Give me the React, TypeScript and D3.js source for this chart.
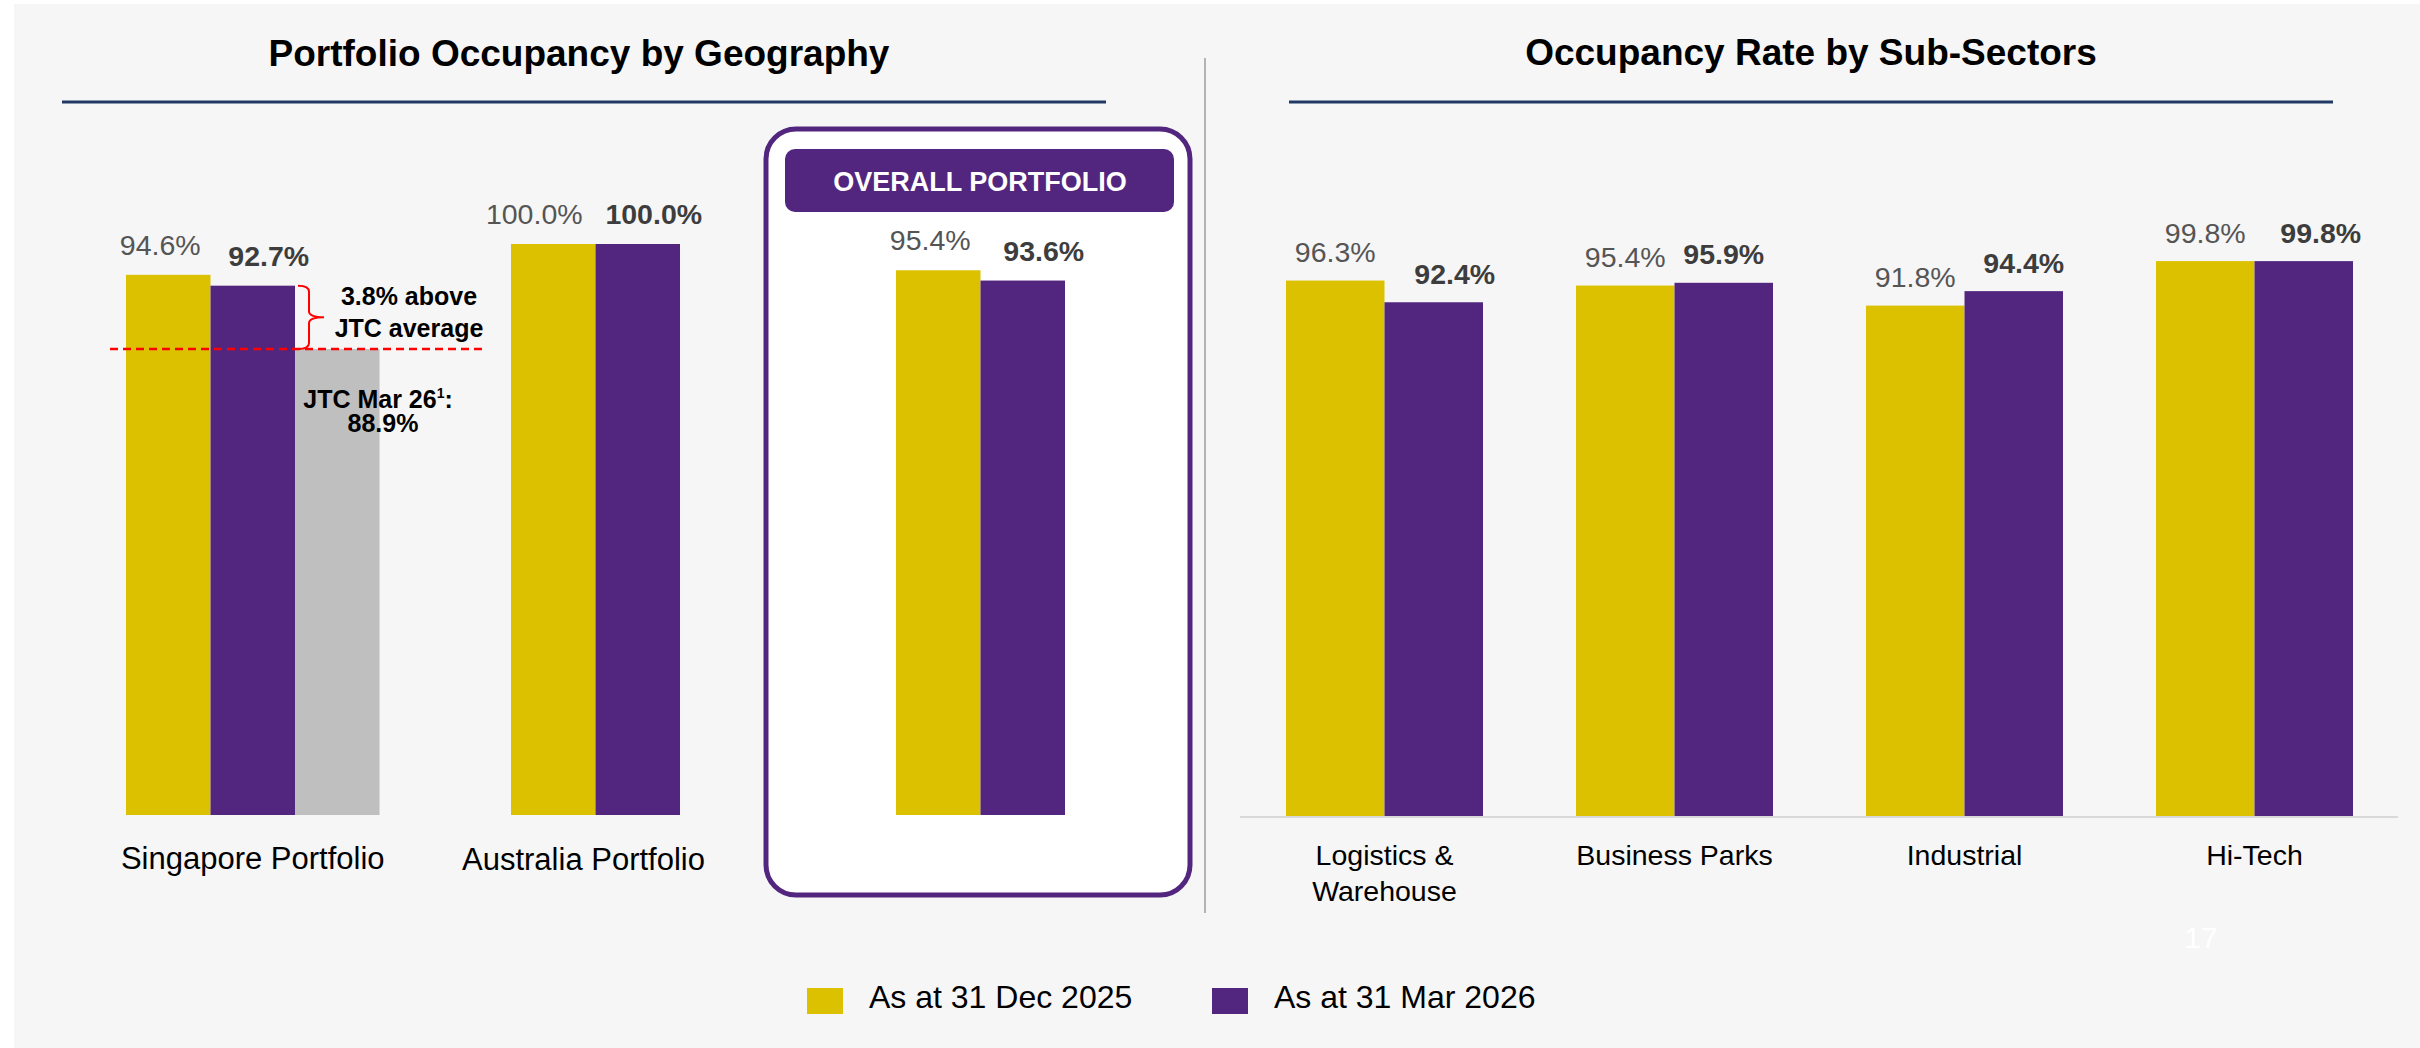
import React from 'react';
import * as d3 from 'd3';

// ---------- data ----------
const geoCategories = ['Singapore Portfolio', 'Australia Portfolio', 'OVERALL PORTFOLIO'];
const geoDec2025 = [94.6, 100.0, 95.4];
const geoMar2026 = [92.7, 100.0, 93.6];
const jtcAverage = 88.9; // JTC Mar 26 average (label)
const jtcDrawnLevel = 81.6; // level at which the reference draws the grey JTC bar / dashed line
const jtcGap = 3.8;

const sectorCategories = [['Logistics &', 'Warehouse'], ['Business Parks'], ['Industrial'], ['Hi-Tech']];
const sectorDec2025 = [96.3, 95.4, 91.8, 99.8];
const sectorMar2026 = [92.4, 95.9, 94.4, 99.8];

const seriesNames = ['As at 31 Dec 2025', 'As at 31 Mar 2026'];

// ---------- styles ----------
const YELLOW = '#dcc100';
const PURPLE = '#52267f';
const GREY_BAR = '#bfbfbf';
const NAVY = '#1f3864';
const FONT = '"Liberation Sans", Arial, Helvetica, sans-serif';

const fmt = (v: number) => `${v.toFixed(1)}%`;

export default function App() {
  const W = 2420;
  const H = 1048;

  // Left panel scales
  const yL = d3.scaleLinear().domain([0, 100]).range([815, 244]);
  const xL = d3.scaleBand<string>().domain(geoCategories).range([126, 1065]).paddingInner(0.561).paddingOuter(0);
  const xLs = d3.scaleBand<string>().domain(['a', 'b']).range([0, xL.bandwidth()]).padding(0);
  const bwL = xLs.bandwidth();

  // Right panel scales
  const sectorKeys = sectorCategories.map((c) => c.join(' '));
  const yR = d3.scaleLinear().domain([0, 100]).range([816, 260]);
  const xR = d3.scaleBand<string>().domain(sectorKeys).range([1286, 2353]).paddingInner(0.3207).paddingOuter(0);
  const xRs = d3.scaleBand<string>().domain(['a', 'b']).range([0, xR.bandwidth()]).padding(0);
  const bwR = xRs.bandwidth();

  // label nudges (layout only)
  const lDxA = [-8, -19, -8];
  const lDxB = [16, 16, 21];
  const rDxA = [0, 0, 0, 0];
  const rDxB = [21, 0, 10, 17];

  const valueFont = 28.5;

  const sgX = xL(geoCategories[0])!;
  const jtcX = sgX + 2 * bwL;
  const jtcY = yL(jtcDrawnLevel);
  const sgPurpleTop = yL(geoMar2026[0]);
  const braceX = jtcX + 14;
  const braceMid = (sgPurpleTop + jtcY) / 2;
  const bracePath = `M${jtcX + 3},${sgPurpleTop} Q${braceX},${sgPurpleTop} ${braceX},${sgPurpleTop + 6}
    L${braceX},${braceMid - 6} Q${braceX},${braceMid} ${braceX + 15},${braceMid}
    Q${braceX},${braceMid} ${braceX},${braceMid + 6} L${braceX},${jtcY - 6} Q${braceX},${jtcY} ${jtcX + 3},${jtcY}`;

  return (
    <svg
      width={W}
      height={H}
      viewBox={`0 0 ${W} ${H}`}
      style={{ position: 'absolute', left: 0, top: 0, fontFamily: FONT }}
    >
      <rect x={0} y={0} width={W} height={H} fill="#ffffff" />
      <rect x={14} y={4} width={W - 14} height={H - 4} fill="#f6f6f6" />

      {/* Titles */}
      <text x={579} y={66} textAnchor="middle" fontSize={37} fontWeight="bold" fill="#000">
        Portfolio Occupancy by Geography
      </text>
      <line x1={62} x2={1106} y1={102} y2={102} stroke={NAVY} strokeWidth={3} />
      <text x={1811} y={65} textAnchor="middle" fontSize={37} fontWeight="bold" fill="#000">
        Occupancy Rate by Sub-Sectors
      </text>
      <line x1={1289} x2={2333} y1={102} y2={102} stroke={NAVY} strokeWidth={3} />

      {/* separator */}
      <line x1={1205} x2={1205} y1={58} y2={913} stroke="#b3b3b3" strokeWidth={2} />

      {/* Overall portfolio box */}
      <rect x={766} y={129} width={424} height={766} rx={30} ry={30} fill="#ffffff" stroke={PURPLE} strokeWidth={5} />
      <rect x={785} y={149} width={389} height={63} rx={10} ry={10} fill={PURPLE} />
      <text x={980} y={191} textAnchor="middle" fontSize={27} fontWeight="bold" fill="#ffffff">
        {geoCategories[2]}
      </text>

      {/* Left bars */}
      {geoCategories.map((c, i) => {
        const x0 = xL(c)!;
        const ya = yL(geoDec2025[i]);
        const yb = yL(geoMar2026[i]);
        return (
          <g key={c}>
            <rect x={x0 + xLs('a')!} y={ya} width={bwL} height={yL(0) - ya} fill={YELLOW} />
            <rect x={x0 + xLs('b')!} y={yb} width={bwL} height={yL(0) - yb} fill={PURPLE} />
            <text
              x={x0 + xLs('a')! + bwL / 2 + lDxA[i]}
              y={ya - 20}
              textAnchor="middle"
              fontSize={valueFont}
              fill="#555555"
            >
              {fmt(geoDec2025[i])}
            </text>
            <text
              x={x0 + xLs('b')! + bwL / 2 + lDxB[i]}
              y={yb - 20}
              textAnchor="middle"
              fontSize={valueFont}
              fontWeight="bold"
              fill="#3d3d3d"
            >
              {fmt(geoMar2026[i])}
            </text>
          </g>
        );
      })}

      {/* JTC bar */}
      <rect x={jtcX} y={jtcY} width={bwL} height={yL(0) - jtcY} fill={GREY_BAR} />
      <line x1={110} x2={482} y1={jtcY} y2={jtcY} stroke="#ff0000" strokeWidth={2.5} strokeDasharray="8,5" />
      <path d={bracePath} fill="none" stroke="#ff0000" strokeWidth={2} />
      <text x={409} y={305} textAnchor="middle" fontSize={25} fontWeight="bold" fill="#000">
        {`${jtcGap.toFixed(1)}% above`}
      </text>
      <text x={409} y={337} textAnchor="middle" fontSize={25} fontWeight="bold" fill="#000">
        JTC average
      </text>
      <text x={378} y={408} textAnchor="middle" fontSize={25} fontWeight="bold" fill="#000">
        JTC Mar 26
        <tspan fontSize={14} dy={-10}>1</tspan>
        <tspan dy={10}>:</tspan>
      </text>
      <text x={383} y={432} textAnchor="middle" fontSize={25} fontWeight="bold" fill="#000">
        {fmt(jtcAverage)}
      </text>

      {/* Left category labels */}
      <text x={sgX + 1.5 * bwL} y={869} textAnchor="middle" fontSize={31} fill="#000">
        {geoCategories[0]}
      </text>
      <text x={xL(geoCategories[1])! + bwL - 12} y={870} textAnchor="middle" fontSize={31} fill="#000">
        {geoCategories[1]}
      </text>

      {/* Right axis */}
      <line x1={1240} x2={2398} y1={yR(0) + 1} y2={yR(0) + 1} stroke="#d9d9d9" strokeWidth={2} />

      {/* Right bars */}
      {sectorKeys.map((k, i) => {
        const x0 = xR(k)!;
        const ya = yR(sectorDec2025[i]);
        const yb = yR(sectorMar2026[i]);
        return (
          <g key={k}>
            <rect x={x0 + xRs('a')!} y={ya} width={bwR} height={yR(0) - ya} fill={YELLOW} />
            <rect x={x0 + xRs('b')!} y={yb} width={bwR} height={yR(0) - yb} fill={PURPLE} />
            <text
              x={x0 + xRs('a')! + bwR / 2 + rDxA[i]}
              y={ya - 18.5}
              textAnchor="middle"
              fontSize={valueFont}
              fill="#555555"
            >
              {fmt(sectorDec2025[i])}
            </text>
            <text
              x={x0 + xRs('b')! + bwR / 2 + rDxB[i]}
              y={yb - 18.5}
              textAnchor="middle"
              fontSize={valueFont}
              fontWeight="bold"
              fill="#3d3d3d"
            >
              {fmt(sectorMar2026[i])}
            </text>
            {sectorCategories[i].map((line, j) => (
              <text key={j} x={x0 + bwR} y={865 + j * 36} textAnchor="middle" fontSize={28.5} fill="#000">
                {line}
              </text>
            ))}
          </g>
        );
      })}

      {/* page number */}
      <text x={2201} y={948} textAnchor="middle" fontSize={30} fill="#ffffff">
        17
      </text>

      {/* Legend */}
      {seriesNames.map((s, i) => {
        const lx = i === 0 ? 807 : 1212;
        return (
          <g key={s}>
            <rect x={lx} y={988} width={36} height={26} fill={i === 0 ? YELLOW : PURPLE} />
            <text x={lx + 62} y={1008} fontSize={32} fill="#000">
              {s}
            </text>
          </g>
        );
      })}
    </svg>
  );
}
